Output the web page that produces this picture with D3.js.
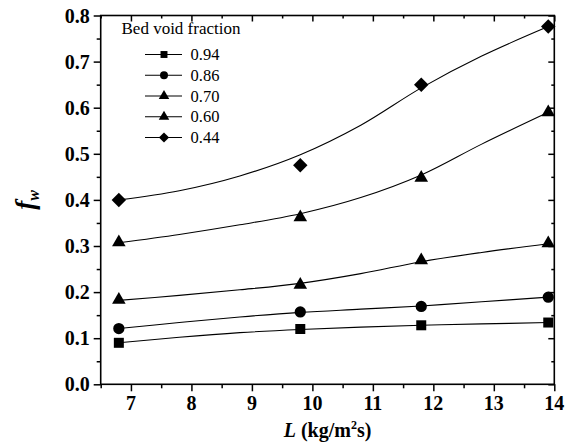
<!DOCTYPE html>
<html>
<head>
<meta charset="utf-8">
<script src="https://cdn.jsdelivr.net/npm/d3@7"></script>
</head>
<body style="margin:0; font-family: 'Liberation Serif', serif;">
<script>
// ===============================
// Data
// ===============================
const massFlux = [6.8, 9.8, 11.8, 13.9];
const seriesNames = ["0.94", "0.86", "0.70", "0.60", "0.44"];
const seriesShapes = ["square", "circle", "triangle", "triangle", "diamond"];
const f094 = [0.090, 0.120, 0.128, 0.134];
const f086 = [0.121, 0.157, 0.169, 0.189];
const f070 = [0.183, 0.216, 0.269, 0.306];
const f060 = [0.308, 0.362, 0.448, 0.590];
const f044 = [0.400, 0.475, 0.650, 0.776];

// fitted curves
const fitX = [6.8, 7.8, 8.8, 9.8, 10.8, 11.8, 12.8, 13.9];
const fit094 = [0.090, 0.102, 0.112, 0.119, 0.124, 0.128, 0.131, 0.134];
const fit086 = [0.121, 0.134, 0.146, 0.156, 0.163, 0.170, 0.179, 0.189];
const fit070 = [0.182, 0.193, 0.205, 0.219, 0.240, 0.266, 0.286, 0.305];
const fit060 = [0.307, 0.325, 0.346, 0.370, 0.405, 0.454, 0.521, 0.590];
const fit044 = [0.400, 0.420, 0.452, 0.498, 0.562, 0.643, 0.712, 0.776];

const yTicks = [0.0, 0.1, 0.2, 0.3, 0.4, 0.5, 0.6, 0.7, 0.8];
const xTicks = [7, 8, 9, 10, 11, 12, 13, 14];

// ===============================
// Layout
// ===============================
const W = 567, H = 443;
const margin = { top: 15.5, right: 12.7, bottom: 58.7, left: 100.7 };
const width = W - margin.left - margin.right;
const height = H - margin.top - margin.bottom;
const FONT = '"Liberation Serif"';

const svg = d3.select("body").append("svg")
  .attr("width", W).attr("height", H)
  .style("display", "block");

const g = svg.append("g")
  .attr("transform", `translate(${margin.left},${margin.top})`);

const x = d3.scaleLinear().domain([6.5, 14]).range([0, width]);
const y = d3.scaleLinear().domain([0, 0.8]).range([height, 0]);

const xMinor = d3.range(6.5, 14, 1);
const yMinor = d3.range(0.05, 0.8, 0.1);

function styleAxis(sel) {
  sel.attr("font-family", null).attr("font-size", null);
  sel.select(".domain").remove();
  sel.selectAll(".tick line").attr("stroke", "#000").attr("stroke-width", 1.5);
}

// bottom
g.append("g").attr("transform", `translate(0,${height})`)
  .call(d3.axisBottom(x).tickValues(xTicks).tickSize(7).tickFormat(""))
  .call(styleAxis);
g.append("g").attr("transform", `translate(0,${height})`)
  .call(d3.axisBottom(x).tickValues(xMinor).tickSize(4).tickFormat(""))
  .call(styleAxis);

// left
g.append("g")
  .call(d3.axisLeft(y).tickValues(yTicks).tickSize(7).tickFormat(""))
  .call(styleAxis);
g.append("g")
  .call(d3.axisLeft(y).tickValues(yMinor).tickSize(4).tickFormat(""))
  .call(styleAxis);

// top & right, ticks pointing in
g.append("g")
  .call(d3.axisTop(x).tickValues(xTicks).tickSize(-6).tickFormat(""))
  .call(styleAxis);
g.append("g")
  .call(d3.axisTop(x).tickValues(xMinor).tickSize(-3).tickFormat(""))
  .call(styleAxis);
g.append("g").attr("transform", `translate(${width},0)`)
  .call(d3.axisRight(y).tickValues(yTicks).tickSize(-6).tickFormat(""))
  .call(styleAxis);
g.append("g").attr("transform", `translate(${width},0)`)
  .call(d3.axisRight(y).tickValues(yMinor).tickSize(-3).tickFormat(""))
  .call(styleAxis);

// tick labels written as plain text so the serif face is applied directly
xTicks.forEach(v => {
  svg.append("text")
    .attr("x", margin.left + x(v)).attr("y", margin.top + height + 26)
    .style("font-family", FONT).attr("font-size", 20).attr("font-weight", "bold")
    .attr("text-anchor", "middle").attr("fill", "#000")
    .text(d3.format("d")(v));
});
yTicks.forEach(v => {
  svg.append("text")
    .attr("x", margin.left - 11).attr("y", margin.top + y(v) + 7)
    .style("font-family", FONT).attr("font-size", 20).attr("font-weight", "bold")
    .attr("text-anchor", "end").attr("fill", "#000")
    .text(d3.format(".1f")(v));
});

// frame
g.append("rect")
  .attr("width", width).attr("height", height)
  .attr("fill", "none").attr("stroke", "#000").attr("stroke-width", 1.6);

// ===============================
// Series
// ===============================
const values = [f094, f086, f070, f060, f044];
const fits = [fit094, fit086, fit070, fit060, fit044];

const symbolFor = {
  square: d3.symbol().type(d3.symbolSquare).size(100),
  circle: d3.symbol().type(d3.symbolCircle).size(100),
  triangle: d3.symbol().type(d3.symbolTriangle).size(80),
  diamond: d3.symbol().type(d3.symbolSquare).size(105)
};
const legendSymbol = {
  square: d3.symbol().type(d3.symbolSquare).size(48),
  circle: d3.symbol().type(d3.symbolCircle).size(50),
  triangle: d3.symbol().type(d3.symbolTriangle).size(48),
  diamond: d3.symbol().type(d3.symbolSquare).size(52)
};
const rot = shape => (shape === "diamond" ? " rotate(45)" : "");

const line = d3.line()
  .x((d, i) => x(fitX[i]))
  .y(d => y(d))
  .curve(d3.curveCatmullRom.alpha(0.5));

fits.forEach(f => {
  g.append("path")
    .attr("d", line(f))
    .attr("fill", "none")
    .attr("stroke", "#000")
    .attr("stroke-width", 1.1);
});

values.forEach((vals, si) => {
  const shape = seriesShapes[si];
  g.append("g").selectAll("path")
    .data(vals)
    .join("path")
    .attr("d", symbolFor[shape]())
    .attr("transform", (d, i) => `translate(${x(massFlux[i])},${y(d)})${rot(shape)}`)
    .attr("fill", "#000");
});

// ===============================
// Legend
// ===============================
svg.append("text")
  .attr("x", 121.5).attr("y", 34)
  .style("font-family", FONT).attr("font-size", 17)
  .attr("fill", "#000")
  .text("Bed void fraction");

seriesNames.forEach((name, i) => {
  const cy = 54.5 + i * 20.75;
  svg.append("line")
    .attr("x1", 145).attr("x2", 182).attr("y1", cy).attr("y2", cy)
    .attr("stroke", "#000").attr("stroke-width", 1.1);
  svg.append("path")
    .attr("d", legendSymbol[seriesShapes[i]]())
    .attr("transform", `translate(164,${cy})${rot(seriesShapes[i])}`)
    .attr("fill", "#000");
  svg.append("text")
    .attr("x", 190.5).attr("y", cy + 5.5)
    .style("font-family", FONT).attr("font-size", 16.5)
    .attr("fill", "#000")
    .text(name);
});

// ===============================
// Axis titles
// ===============================
const xt = svg.append("text")
  .attr("x", margin.left + width / 2).attr("y", 437)
  .attr("text-anchor", "middle")
  .style("font-family", FONT).attr("font-size", 20).attr("font-weight", "bold")
  .attr("fill", "#000");
xt.append("tspan").attr("font-style", "italic").text("L");
xt.append("tspan").text(" (kg/m");
xt.append("tspan").attr("font-size", 12).attr("dy", -8).text("2");
xt.append("tspan").attr("dy", 8).text("s)");

const yt = svg.append("text")
  .attr("transform", "translate(34,200) rotate(-90)")
  .attr("text-anchor", "middle")
  .style("font-family", FONT).attr("font-weight", "bold").attr("font-style", "italic")
  .attr("fill", "#000");
yt.append("tspan").attr("font-size", 27).text("f");
yt.append("tspan").attr("font-size", 16).attr("dy", 5).text("w");
</script>
</body>
</html>
